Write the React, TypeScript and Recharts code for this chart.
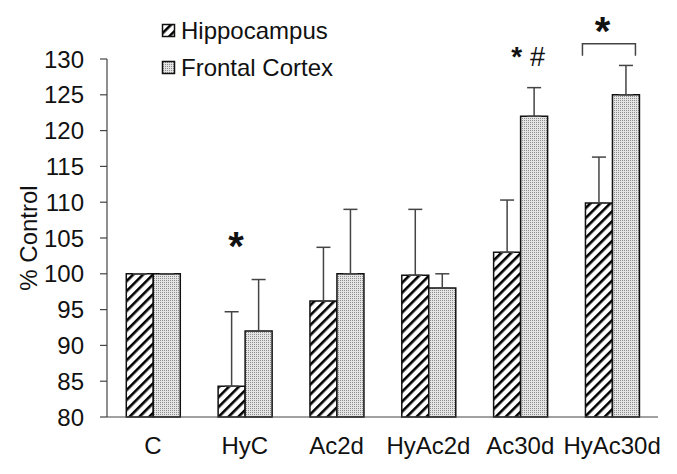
import { BarChart, Bar, XAxis, YAxis, ErrorBar, LabelList } from "recharts";

const categories = ["C", "HyC", "Ac2d", "HyAc2d", "Ac30d", "HyAc30d"];
const hippocampus = [100, 84.3, 96.2, 99.8, 103, 109.9];
const hippocampusErr = [0, 10.4, 7.5, 9.2, 7.3, 6.4];
const frontalCortex = [100, 92, 100, 98, 122, 125];
const frontalCortexErr = [0, 7.2, 9, 2, 4, 4.1];
const yTicks = [80, 85, 90, 95, 100, 105, 110, 115, 120, 125, 130];
const edgeTicks = [0, 1, 2, 3, 4, 5, 6];

const data = categories.map((name, i) => ({
  name,
  hippo: hippocampus[i],
  hippoErr: [0, hippocampusErr[i]],
  frontal: frontalCortex[i],
  frontalErr: [0, frontalCortexErr[i]],
}));

const FONT = "'Liberation Sans', Arial, sans-serif";

function LegendBox() {
  const items = [
    { label: "Hippocampus", fill: "url(#hatch)" },
    { label: "Frontal Cortex", fill: "url(#dots)" },
  ];
  return (
    <div style={{ position: "absolute", left: 161, top: 12, fontFamily: FONT, fontSize: 24, color: "#111" }}>
      {items.map((it) => (
        <div key={it.label} style={{ display: "flex", alignItems: "center", height: 37 }}>
          <svg width={15} height={15} style={{ marginRight: 5 }}>
            <rect x={1.5} y={1.5} width={12} height={12} fill={it.fill} stroke="#111" strokeWidth={1.5} />
          </svg>
          <span>{it.label}</span>
        </div>
      ))}
    </div>
  );
}

// significance marks, placed from the frontal bar geometry
function Marks(props: any) {
  const { x, y, width, index } = props;
  if (index === 1) {
    return (
      <text x={x - 9} y={y - 71} textAnchor="middle" fontFamily={FONT} fontSize={40} fontWeight="bold" fill="#111">
        *
      </text>
    );
  }
  if (index === 4) {
    return (
      <g fontFamily={FONT} fill="#111">
        <text x={x - 4} y={y - 50} textAnchor="middle" fontSize={28} fontWeight="bold">
          *
        </text>
        <text x={x + 17} y={y - 50} textAnchor="middle" fontSize={27}>
          #
        </text>
      </g>
    );
  }
  if (index === 5) {
    const l = x - 30;
    const r = x + width - 4;
    const by = y - 51;
    return (
      <g>
        <path d={`M${l},${by + 12} V${by} H${r} V${by + 12}`} fill="none" stroke="#444" strokeWidth={1.5} />
        <text x={x - 10} y={by + 1} textAnchor="middle" fontFamily={FONT} fontSize={40} fontWeight="bold" fill="#111">
          *
        </text>
      </g>
    );
  }
  return null;
}

export default function App() {
  return (
    <div style={{ position: "absolute", left: 0, top: 0, width: 677, height: 474, background: "#fff" }}>
      <BarChart
        width={677}
        height={474}
        data={data}
        margin={{ top: 59, right: 19, bottom: 20, left: 0 }}
        barCategoryGap="21%"
        barGap={0}
      >
        <defs>
          <pattern id="hatch" patternUnits="userSpaceOnUse" width={7} height={7} patternTransform="rotate(45)">
            <rect width={7} height={7} fill="#fff" />
            <rect width={2.6} height={7} fill="#000" />
          </pattern>
          <pattern id="dots" patternUnits="userSpaceOnUse" width={2} height={2}>
            <rect width={2} height={2} fill="#e4e4e4" />
            <rect width={1} height={1} fill="#8e8e8e" />
          </pattern>
        </defs>
        <XAxis
          xAxisId="edges"
          type="number"
          domain={[0, 6]}
          ticks={edgeTicks}
          tick={false}
          axisLine={false}
          tickSize={7}
          tickLine={{ stroke: "#444", strokeWidth: 1.2 }}
          height={0}
        />
        <XAxis
          dataKey="name"
          tickLine={false}
          axisLine={{ stroke: "#444", strokeWidth: 1.2 }}
          tick={{ fontFamily: FONT, fontSize: 24, fill: "#111" }}
          tickMargin={14}
          height={37}
        />
        <YAxis
          domain={[80, 130]}
          ticks={yTicks}
          interval={0}
          width={107}
          tickSize={7}
          tickMargin={16}
          axisLine={{ stroke: "#444", strokeWidth: 1.2 }}
          tickLine={{ stroke: "#444", strokeWidth: 1.2 }}
          tick={{ fontFamily: FONT, fontSize: 24, fill: "#111" }}
          label={{
            content: ({ viewBox }: any) => {
              const cy = viewBox.y + viewBox.height / 2;
              return (
                <text
                  x={28}
                  y={cy}
                  transform={`rotate(-90, 28, ${cy})`}
                  textAnchor="middle"
                  dominantBaseline="central"
                  fontFamily={FONT}
                  fontSize={24}
                  fill="#111"
                >
                  % Control
                </text>
              );
            },
          }}
        />
        <Bar dataKey="hippo" name="Hippocampus" fill="url(#hatch)" stroke="#111" strokeWidth={1.5} isAnimationActive={false}>
          <ErrorBar dataKey="hippoErr" width={7} stroke="#444" strokeWidth={1.5} direction="y" />
        </Bar>
        <Bar dataKey="frontal" name="Frontal Cortex" fill="url(#dots)" stroke="#111" strokeWidth={1.5} isAnimationActive={false}>
          <ErrorBar dataKey="frontalErr" width={7} stroke="#444" strokeWidth={1.5} direction="y" />
          <LabelList dataKey="frontal" content={<Marks />} />
        </Bar>
      </BarChart>
      <LegendBox />
    </div>
  );
}
